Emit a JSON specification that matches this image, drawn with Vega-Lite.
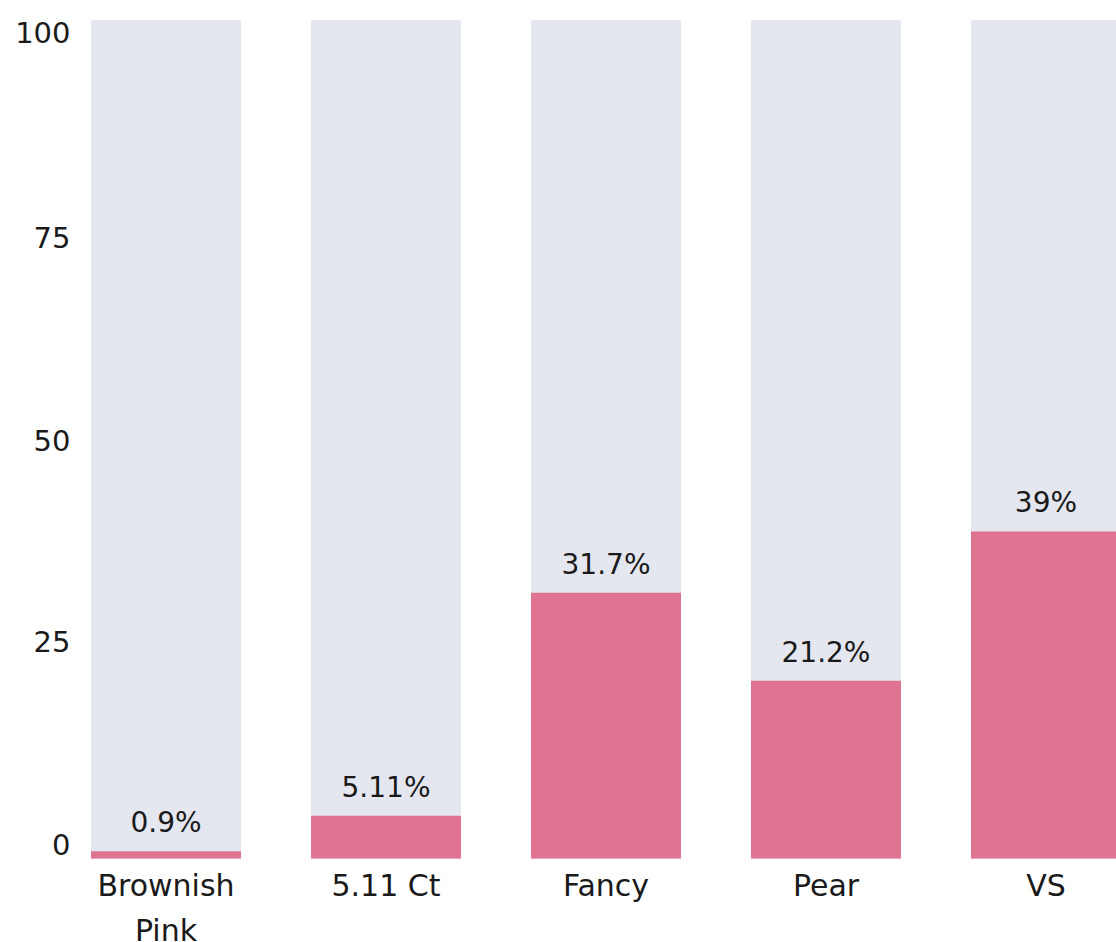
{
  "$schema": "https://vega.github.io/schema/vega-lite/v6.json",
  "autosize": "none",
  "width": 1025,
  "height": 839,
  "padding": {"left": 91, "top": 19.7, "right": 0, "bottom": 83.3},
  "background": "white",
  "config": {"view": {"stroke": null}, "font": "DejaVu Sans"},
  "data": {"values": [
    {"category": "Brownish Pink", "value": 0.9, "total": 100, "label": "0.9%"},
    {"category": "5.11 Ct", "value": 5.11, "total": 100, "label": "5.11%"},
    {"category": "Fancy", "value": 31.7, "total": 100, "label": "31.7%"},
    {"category": "Pear", "value": 21.2, "total": 100, "label": "21.2%"},
    {"category": "VS", "value": 39, "total": 100, "label": "39%"}
  ]},
  "encoding": {
    "x": {
      "field": "category", "type": "nominal", "sort": null,
      "scale": {"range": [0, 1030], "paddingInner": 0.318, "paddingOuter": 0},
      "axis": {
        "title": null, "domain": false, "ticks": false, "labelAngle": 0,
        "labelFontSize": 30, "labelColor": "#1a1a1a", "labelPadding": 13,
        "labelLineHeight": 45, "labelBaseline": "top",
        "labelExpr": "datum.label == 'Brownish Pink' ? ['Brownish', 'Pink'] : datum.label"
      }
    }
  },
  "layer": [
    {
      "mark": {"type": "bar", "color": "#e4e6f0", "clip": true},
      "encoding": {
        "y": {"field": "total", "type": "quantitative",
          "scale": {"domain": [0, 100], "nice": false},
          "axis": {
            "title": null, "domain": false, "ticks": false, "grid": false,
            "values": [0, 25, 50, 75, 100], "labelFlush": true,
            "labelFontSize": 29, "labelColor": "#1a1a1a", "labelPadding": 21,
            "labelOffset": {"condition": [
              {"test": "datum.value == 75", "value": 9},
              {"test": "datum.value == 25", "value": -6},
              {"test": "datum.value == 50", "value": 2},
              {"test": "datum.value == 0", "value": 2}
            ], "value": 0}
          }
        }
      }
    },
    {
      "mark": {"type": "bar", "color": "#e07391", "clip": true},
      "encoding": {"y": {"field": "value", "type": "quantitative"}}
    },
    {
      "mark": {"type": "text", "baseline": "alphabetic", "dy": -19, "fontSize": 28, "fontWeight": 500, "color": "#1a1a1a"},
      "encoding": {
        "y": {"field": "value", "type": "quantitative"},
        "text": {"field": "label"}
      }
    }
  ]
}
